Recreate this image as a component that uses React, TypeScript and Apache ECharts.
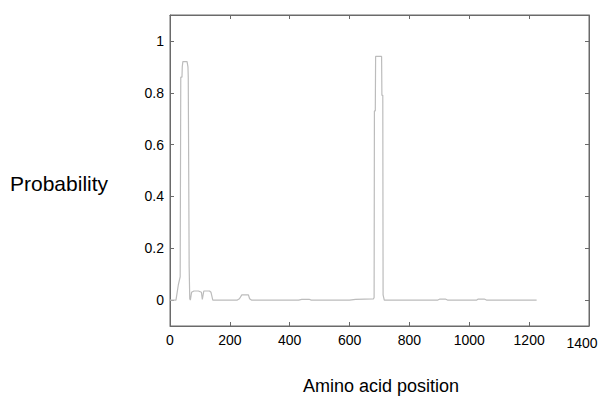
import React, { useEffect, useRef } from "react";
import * as echarts from "echarts";

const positions = [
  0, 20, 28, 34, 35, 36, 40, 41, 43, 57, 60, 61, 63, 64, 66, 68, 72, 80, 95, 105, 108, 110, 113, 132, 137, 143,
  225, 232, 240, 262, 266, 272, 430, 440, 465, 472, 600, 620, 680, 682, 683, 686, 687, 707, 708, 711, 712, 716,
  895, 902, 920, 927, 1025, 1030, 1050, 1057, 1225,
];
const probabilities = [
  0, 0, 0.06, 0.09, 0.09, 0.86, 0.86, 0.9, 0.92, 0.92, 0.9, 0.86, 0.86, 0.13, 0.005, 0.0, 0.03, 0.035, 0.035, 0.03, 0.003, 0.003, 0.035, 0.035, 0.03, 0,
  0, 0.005, 0.02, 0.02, 0.005, 0, 0, 0.003, 0.003, 0, 0, 0.003, 0.005, 0.01, 0.73, 0.73, 0.94, 0.94, 0.79, 0.79, 0.02, 0,
  0, 0.004, 0.004, 0, 0, 0.004, 0.004, 0, 0,
];
const yTicks = [0, 0.2, 0.4, 0.6, 0.8, 1];
const xMax = 1400;

export default function App() {
  const ref = useRef<HTMLDivElement>(null);
  useEffect(() => {
    if (!ref.current) return;
    const chart = echarts.init(ref.current, undefined, { renderer: "svg" });
    const data = positions.map((p, i) => [p, probabilities[i]]);
    const axisColor = "#6a6a6a";
    const font = "Liberation Sans, Arial, sans-serif";
    chart.setOption({
      animation: false,
      backgroundColor: "#ffffff",
      grid: {
        left: 170,
        top: 15,
        right: 12,
        bottom: 80,
        show: true,
        borderColor: axisColor,
        borderWidth: 1,
        containLabel: false,
        outerBoundsMode: "none",
      },
      xAxis: [
        {
          type: "value",
          min: 0,
          max: xMax,
          interval: 200,
          position: "bottom",
          axisLine: { show: true, onZero: false, lineStyle: { color: axisColor } },
          axisTick: { show: true, inside: true, length: 4, lineStyle: { color: axisColor } },
          axisLabel: {
            color: "#000",
            fontSize: 14,
            fontFamily: font,
            margin: 7,
            formatter: (v: number) => (v === xMax ? "" : String(v)),
          },
          splitLine: { show: false },
        },
        {
          type: "value",
          min: 0,
          max: xMax,
          interval: 200,
          position: "top",
          axisLine: { show: true, onZero: false, lineStyle: { color: axisColor } },
          axisTick: { show: true, inside: true, length: 4, lineStyle: { color: axisColor } },
          axisLabel: { show: false },
          splitLine: { show: false },
        },
      ],
      yAxis: [
        {
          type: "value",
          min: -0.1,
          max: 1.1,
          position: "left",
          axisLine: { show: true, onZero: false, lineStyle: { color: axisColor } },
          axisTick: { show: true, inside: true, length: 4, customValues: yTicks, lineStyle: { color: axisColor } },
          axisLabel: {
            color: "#000",
            fontSize: 14,
            fontFamily: font,
            margin: 6,
            customValues: yTicks,
            formatter: (v: number) => String(Math.round(v * 10) / 10),
          },
          splitLine: { show: false },
        },
        {
          type: "value",
          min: -0.1,
          max: 1.1,
          position: "right",
          axisLine: { show: true, onZero: false, lineStyle: { color: axisColor } },
          axisTick: { show: true, inside: true, length: 4, customValues: yTicks, lineStyle: { color: axisColor } },
          axisLabel: { show: false },
          splitLine: { show: false },
        },
      ],
      graphic: [
        {
          type: "text",
          x: 582,
          y: 343,
          style: {
            text: String(xMax),
            fontSize: 14,
            fontFamily: font,
            fill: "#000",
            align: "center",
            verticalAlign: "middle",
          },
        },
        {
          type: "text",
          x: 10,
          y: 183,
          style: { text: "Probability", fontSize: 21, fontFamily: font, fill: "#000", verticalAlign: "middle" },
        },
        {
          type: "text",
          x: 381,
          y: 386,
          style: {
            text: "Amino acid position",
            fontSize: 18,
            fontFamily: font,
            fill: "#000",
            align: "center",
            verticalAlign: "middle",
          },
        },
      ],
      series: [
        {
          type: "line",
          data,
          xAxisIndex: 0,
          yAxisIndex: 0,
          showSymbol: false,
          symbol: "none",
          lineStyle: { color: "#bcbcbc", width: 1.2 },
        },
      ],
    });
    return () => chart.dispose();
  }, []);
  return (
    <div
      ref={ref}
      style={{ position: "fixed", left: 0, top: 0, width: 601, height: 406, background: "#fff" }}
    />
  );
}
